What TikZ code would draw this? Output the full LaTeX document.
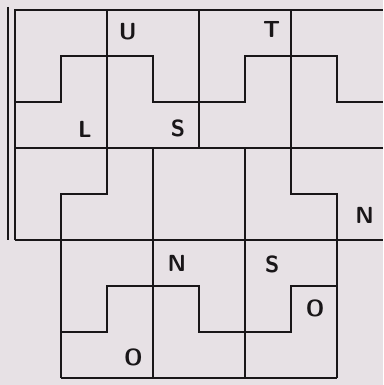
\documentclass[tikz,border=0pt]{standalone}
\usepackage{tikz}
\usetikzlibrary{positioning}
\definecolor{paper}{RGB}{231,225,229}
\definecolor{ink}{RGB}{25,22,24}
\tikzset{
  gridline/.style={ink, line width=1.3pt, line join=miter},
  letter/.style={ink, font=\sffamily\bfseries\Large, inner sep=0pt}
}

\begin{document}
\begin{tikzpicture}[x=1cm, y=-1cm]
    \fill[paper] (-0.326,-0.217) rectangle (8.0,8.15);
    \useasboundingbox (-0.326,-0.217) rectangle (8.0,8.15);
    % frame and straight rules
    \draw[gridline] (-0.15,-0.07) -- (-0.15,5.0);
    \draw[gridline] (0,5) -- (0,0) -- (8,0);
    \draw[gridline] (0,3) -- (8,3);
    \draw[gridline] (0,5) -- (8,5);
    \draw[gridline] (4,0) -- (4,3);
    \draw[gridline] (3,3) -- (3,8);
    \draw[gridline] (5,3) -- (5,8);
    \draw[gridline] (1,8) -- (7,8);
    % stepped rules
    \draw[gridline] (2,0) -- (2,4) -- (1,4) -- (1,8);
    \draw[gridline] (6,0) -- (6,4) -- (7,4) -- (7,8);
    \draw[gridline] (0,2) -- (1,2) -- (1,1) -- (3,1) -- (3,2) -- (5,2) -- (5,1) -- (7,1) -- (7,2) -- (8,2);
    \draw[gridline] (1,7) -- (2,7) -- (2,6) -- (4,6) -- (4,7) -- (6,7) -- (6,6) -- (7,6);
    % letters
    \node[letter] (u)  at (2.45,0.48) {U};
    \node[letter] (t)  at (5.58,0.43) {T};
    \node[letter] (l)  at (1.52,2.6) {L};
    \node[letter] (s1) at (3.54,2.57) {S};
    \node[letter] (n1) at (7.6,4.46) {N};
    \node[letter] (n2) at (3.52,5.5) {N};
    \node[letter] (s2) at (5.59,5.54) {S};
    \node[letter] (o1) at (2.57,7.54) {O};
    \node[letter] (o2) at (6.52,6.48) {O};
\end{tikzpicture}
\end{document}
